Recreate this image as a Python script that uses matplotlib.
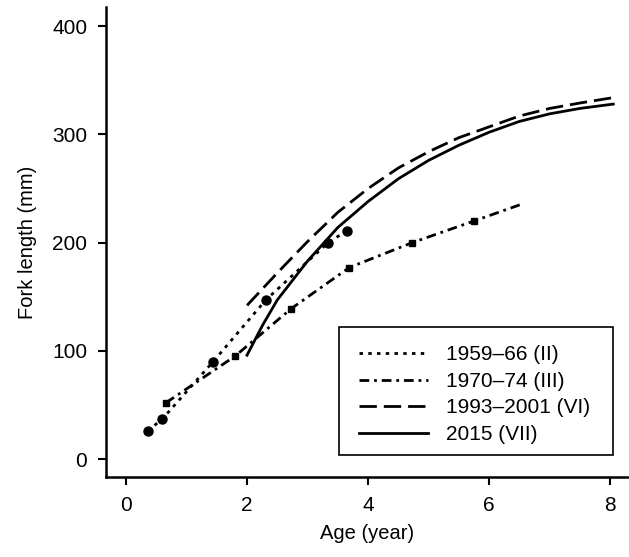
import matplotlib
matplotlib.use("Agg")
import matplotlib.pyplot as plt
from matplotlib.lines import Line2D
from matplotlib.patches import Rectangle

plt.rcParams["font.family"] = ["Liberation Sans", "DejaVu Sans"]
plt.rcParams["lines.scale_dashes"] = False

# --------------------- Data ---------------------
age_5966 = [0.36, 0.60, 1.44, 2.31, 3.34, 3.65]
len_5966 = [26, 37, 90, 147, 200, 211]

age_7074 = [0.66, 1.80, 2.73, 3.69, 4.73, 5.75, 6.51]
len_7074 = [52, 95, 139, 177, 200, 220, 235]
mark_7074 = [0, 1, 2, 3, 4, 5]  # last point is line end only

age_9301 = [2.0, 2.5, 3.0, 3.5, 4.0, 4.5, 5.0, 5.5, 6.0, 6.5, 7.0, 7.5, 8.05]
len_9301 = [142, 172, 201, 228, 250, 269, 284, 297, 307, 317, 324, 329, 334]

age_2015 = [2.0, 2.26, 2.5, 3.0, 3.5, 4.0, 4.5, 5.0, 5.5, 6.0, 6.5, 7.0, 7.5, 8.05]
len_2015 = [96, 124, 147, 183, 214, 238, 259, 276, 290, 302, 312, 319, 324, 328]

labels = ["1959\u201366 (II)", "1970\u201374 (III)", "1993\u20132001 (VI)", "2015 (VII)"]
xticks = [0, 2, 4, 6, 8]
yticks = [0, 100, 200, 300, 400]

# line styles (on/off in points)
DOT = (0, (2.5, 3.8))
DASHDOT = (0, (7, 3.5, 2, 3.5))
DASH = (0, (12.5, 5))

# --------------------- Plot ---------------------
fig = plt.figure(figsize=(6.29, 5.57), dpi=100)
ax = fig.add_axes([0.1685, 0.1436, 0.8315, 0.8434])

lw = 2.0
ax.plot(age_5966, len_5966, color="black", lw=lw, ls=DOT,
        marker="o", markersize=6.5)
ax.plot(age_7074, len_7074, color="black", lw=lw, ls=DASHDOT,
        marker="s", markersize=5, markevery=mark_7074)
ax.plot(age_9301, len_9301, color="black", lw=lw, ls=DASH)
ax.plot(age_2015, len_2015, color="black", lw=lw, ls="-")

ax.set_xlim(-0.33, 8.31)
ax.set_ylim(-16.6, 417.5)
ax.set_xticks(xticks)
ax.set_yticks(yticks)
ax.spines["top"].set_visible(False)
ax.spines["right"].set_visible(False)
ax.spines["left"].set_linewidth(1.8)
ax.spines["bottom"].set_linewidth(1.8)
ax.tick_params(direction="out", length=5.5, width=1.5, labelsize=15)
ax.tick_params(axis="x", pad=8)
ax.tick_params(axis="y", pad=8)
ax.set_xlabel("Age (year)", fontsize=14.5, labelpad=7)
ax.set_ylabel("Fork length (mm)", fontsize=14.5, labelpad=11)

# legend shows line styles only; frame drawn separately to match the box
leg_handles = [Line2D([], [], color="black", lw=lw, ls=s) for s in (DOT, DASHDOT, DASH, "-")]
leg = ax.legend(leg_handles, labels, loc="upper left", bbox_to_anchor=(0.4837, 0.280),
                fontsize=15, frameon=False, handlelength=3.3, handletextpad=0.9,
                labelspacing=0.36, borderpad=0, borderaxespad=0)
ax.add_patch(Rectangle((0.4455, 0.0468), 0.5239, 0.2723, transform=ax.transAxes,
                       fill=False, edgecolor="black", lw=1.2, clip_on=False, zorder=5))

fig.savefig("out.png", dpi=100)
